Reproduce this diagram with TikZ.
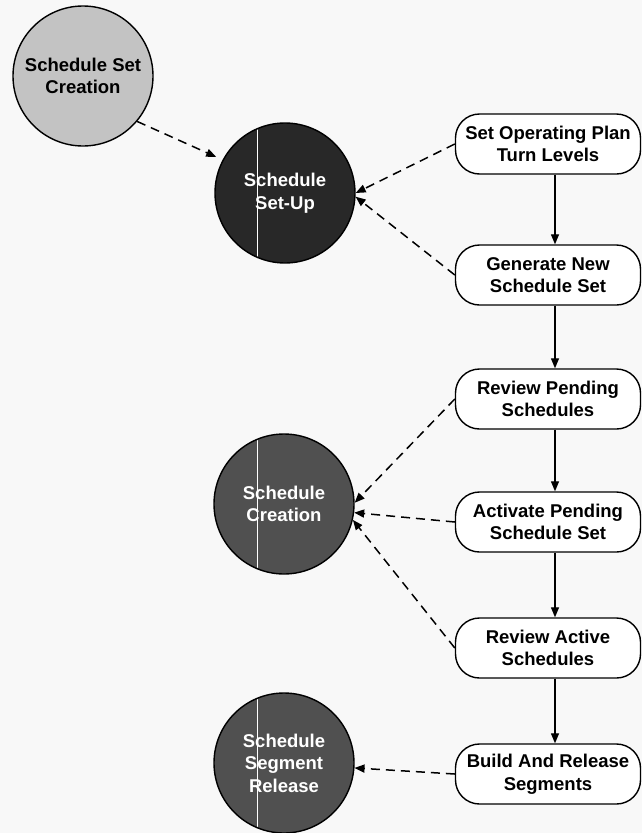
\documentclass[tikz,border=0pt]{standalone}
\usepackage{fontspec}
\setmainfont{Liberation Sans}
\usetikzlibrary{arrows.meta}
\definecolor{bg}{RGB}{248,248,248}
\definecolor{lightfill}{RGB}{195,195,195}
\definecolor{darkfill}{RGB}{40,40,40}
\definecolor{midfill}{RGB}{80,80,80}
\tikzset{
  txt/.style={font=\bfseries\fontsize{18.5}{22.5}\selectfont, align=center},
  proc/.style={txt, draw=black, line width=1.4pt, fill=white, rounded corners=24pt,
    minimum width=185pt, minimum height=60pt, inner sep=0pt},
  bubble/.style={circle, draw=black, line width=1.4pt, minimum size=140pt, inner sep=0pt},
  bubbletext/.style={txt, inner sep=0pt},
  flow/.style={line width=1.3pt, -{Triangle[length=10pt,width=8pt]}},
  dflow/.style={line width=1.5pt, dash pattern=on 9pt off 6pt, -{Triangle[length=10pt,width=8pt]}},
  scanline/.style={white, line width=0.8pt}
}
\begin{document}
\begin{tikzpicture}[x=1pt,y=-1pt]
\fill[bg] (0,0) rectangle (642,833);
\useasboundingbox (0,0) rectangle (642,833);

% circles
\node[bubble, fill=lightfill] (c1) at (83,76) {};
\node[bubble, fill=darkfill] (c2) at (285,193) {};
\node[bubble, fill=midfill] (c3) at (284,504) {};
\node[bubble, fill=midfill] (c4) at (284,763) {};

% scan lines inside dark circles
\begin{scope}
  \clip (285,193) circle (69);
  \draw[scanline] (257,100) -- (257,300);
\end{scope}
\begin{scope}
  \clip (284,504) circle (69);
  \draw[scanline] (257,420) -- (257,600);
\end{scope}
\begin{scope}
  \clip (284,763) circle (69);
  \draw[scanline] (257,680) -- (257,840);
\end{scope}

% circle labels
\node[bubbletext, text=black] (t1) at (c1.center) {Schedule Set\\Creation};
\node[bubbletext, text=white] (t2) at (c2.center) {Schedule\\Set-Up};
\node[bubbletext, text=white] (t3) at (c3.center) {Schedule\\Creation};
\node[bubbletext, text=white] (t4) at (c4.center) {Schedule\\Segment\\Release};

% process boxes
\node[proc] (b1) at (548,144) {Set Operating Plan\\Turn Levels};
\node[proc] (b2) at (548,275) {Generate New\\Schedule Set};
\node[proc] (b3) at (548,399) {Review Pending\\Schedules};
\node[proc] (b4) at (548,522) {Activate Pending\\Schedule Set};
\node[proc] (b5) at (548,648) {Review Active\\Schedules};
\node[proc] (b6) at (548,774) {Build And Release\\Segments};

% solid flow
\draw[flow] ([xshift=7pt]b1.south) -- ([xshift=7pt]b2.north);
\draw[flow] ([xshift=7pt]b2.south) -- ([xshift=7pt]b3.north);
\draw[flow] ([xshift=7pt]b3.south) -- ([xshift=7pt]b4.north);
\draw[flow] ([xshift=7pt]b4.south) -- ([xshift=7pt]b5.north);
\draw[flow] ([xshift=7pt]b5.south) -- ([xshift=7pt]b6.north);

% dashed links
\draw[dflow, shorten >=7pt] (c1.-40) -- (c2.152);
\draw[dflow] (b1.west) -- (c2.0);
\draw[dflow] (b2.west) -- (c2.-3);
\draw[dflow] (b3.west) -- (c3.1);
\draw[dflow] (b4.west) -- (c3.-7);
\draw[dflow] (b5.west) -- (c3.-13);
\draw[dflow] (b6.west) -- (c4.-4);
\end{tikzpicture}
\end{document}
